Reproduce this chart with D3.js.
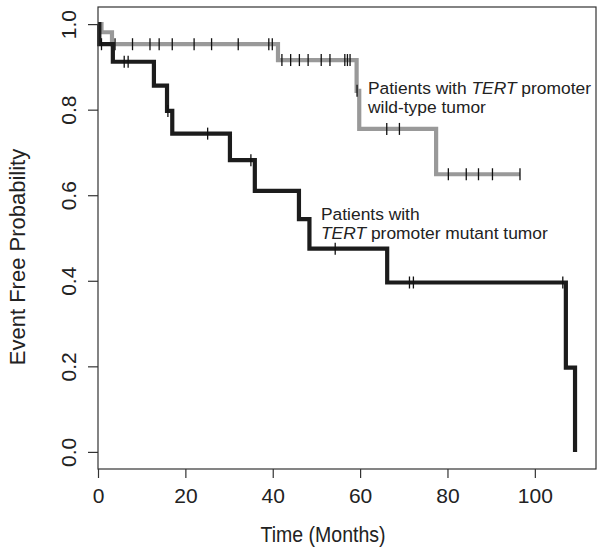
<!DOCTYPE html>
<html>
<head>
<meta charset="utf-8">
<script src="https://cdn.jsdelivr.net/npm/d3@7"></script>
<style>
  body { margin: 0; background: #fff; }
  text { font-family: "Liberation Sans", Arial, sans-serif; fill: #222; }
</style>
</head>
<body>
<script>
// step times (months) and event free probability after each step
const wildTimes = [0, 0.8, 3.2, 41.2, 59.2, 59.8, 77.4, 96.6];
const wildSurv  = [1.0, 0.981, 0.953, 0.916, 0.844, 0.755, 0.649, 0.649];
const wildCensor = [3.9, 7.9, 11.9, 14.0, 17.0, 22.0, 26.0, 32.1, 39.1, 39.9,
  42.1, 44.1, 46.1, 48.1, 51.1, 53.1, 56.5, 57.1, 57.7, 59.3, 66.1, 69.0,
  80.2, 84.3, 87.1, 90.3, 96.6];

const mutTimes = [0, 0.3, 3.4, 12.8, 15.8, 17.0, 30.2, 35.9, 46.0, 48.4, 66.2, 107.1, 109.2];
const mutSurv  = [1.0, 0.953, 0.912, 0.856, 0.797, 0.744, 0.682, 0.610, 0.544, 0.475, 0.396, 0.197, 0.0];
const mutCensor = [0.8, 6.0, 6.9, 16.0, 25.1, 35.0, 54.3, 71.3, 72.2, 106.4];

const xTicks = [0, 20, 40, 60, 80, 100];
const yTicks = [0, 0.2, 0.4, 0.6, 0.8, 1.0];

const W = 604, H = 554;
const box = {left: 98, right: 596, top: 7, bottom: 469};

const x = d3.scaleLinear().domain([0, 114]).range([box.left, box.right]);
const y = d3.scaleLinear().domain([-0.04, 1.04]).range([box.bottom, box.top]);

const svg = d3.select("body").append("svg")
    .attr("width", W)
    .attr("height", H);

// value of a step curve at time t
function survAt(times, surv, t) {
  let v = surv[0];
  for (let i = 0; i < times.length; i++) if (times[i] <= t) v = surv[i];
  return v;
}

const line = d3.line()
    .x(d => x(d[0]))
    .y(d => y(d[1]))
    .curve(d3.curveStepAfter);

function drawCurve(times, surv, censor, color) {
  const pts = times.map((t, i) => [t, surv[i]]);
  svg.append("path")
      .datum(pts)
      .attr("d", line)
      .attr("fill", "none")
      .attr("stroke", color)
      .attr("stroke-width", 4.2);

  svg.selectAll(null)
      .data(censor)
      .enter()
      .append("line")
      .attr("x1", d => x(d))
      .attr("x2", d => x(d))
      .attr("y1", d => y(survAt(times, surv, d)) - 6)
      .attr("y2", d => y(survAt(times, surv, d)) + 6)
      .attr("stroke", "#111")
      .attr("stroke-width", 1.3);
}

drawCurve(wildTimes, wildSurv, wildCensor, "#999999");
drawCurve(mutTimes, mutSurv, mutCensor, "#1c1c1c");

// frame
svg.append("rect")
    .attr("x", box.left)
    .attr("y", box.top)
    .attr("width", box.right - box.left)
    .attr("height", box.bottom - box.top)
    .attr("fill", "none")
    .attr("stroke", "#333")
    .attr("stroke-width", 1.2);

// x axis
const xAxis = svg.append("g")
    .attr("transform", "translate(0," + box.bottom + ")")
    .call(d3.axisBottom(x).tickValues(xTicks).tickSize(9).tickPadding(10).tickFormat(d3.format("d")));
xAxis.select(".domain").remove();
xAxis.selectAll("line").attr("stroke", "#333").attr("stroke-width", 1.2);
xAxis.selectAll("text")
    .attr("font-size", "21px")
    .attr("font-family", "Liberation Sans, Arial, sans-serif")
    .attr("fill", "#222");

// y axis
const yAxis = svg.append("g")
    .attr("transform", "translate(" + box.left + ",0)")
    .call(d3.axisLeft(y).tickValues(yTicks).tickSize(10).tickFormat(d3.format(".1f")));
yAxis.select(".domain").remove();
yAxis.selectAll("line").attr("stroke", "#333").attr("stroke-width", 1.2);
yAxis.selectAll("text")
    .attr("x", null).attr("dy", null)
    .attr("text-anchor", "middle")
    .attr("transform", "translate(-22,0) rotate(-90)")
    .attr("font-size", "21px")
    .attr("font-family", "Liberation Sans, Arial, sans-serif")
    .attr("fill", "#222");

// axis titles
svg.append("text")
    .attr("x", 323)
    .attr("y", 542)
    .attr("text-anchor", "middle")
    .attr("font-size", "22px")
    .attr("textLength", 125)
    .attr("lengthAdjust", "spacingAndGlyphs")
    .text("Time (Months)");

svg.append("text")
    .attr("transform", "translate(25,257) rotate(-90)")
    .attr("text-anchor", "middle")
    .attr("font-size", "22px")
    .text("Event Free Probability");

// annotations
function label(x0, y0, lines) {
  const t = svg.append("text").attr("font-size", "17.4px");
  lines.forEach((parts, i) => {
    parts.forEach((p, j) => {
      const s = t.append("tspan").text(p.s);
      if (j === 0) s.attr("x", x0).attr("y", y0 + i * 18.5);
      if (p.it) s.attr("font-style", "italic");
    });
  });
}

label(368, 94, [
  [{s: "Patients with "}, {s: "TERT", it: true}, {s: " promoter"}],
  [{s: "wild-type tumor"}]
]);
label(321, 220, [
  [{s: "Patients with"}],
  [{s: "TERT", it: true}, {s: " promoter mutant tumor"}]
]);
</script>
</body>
</html>
